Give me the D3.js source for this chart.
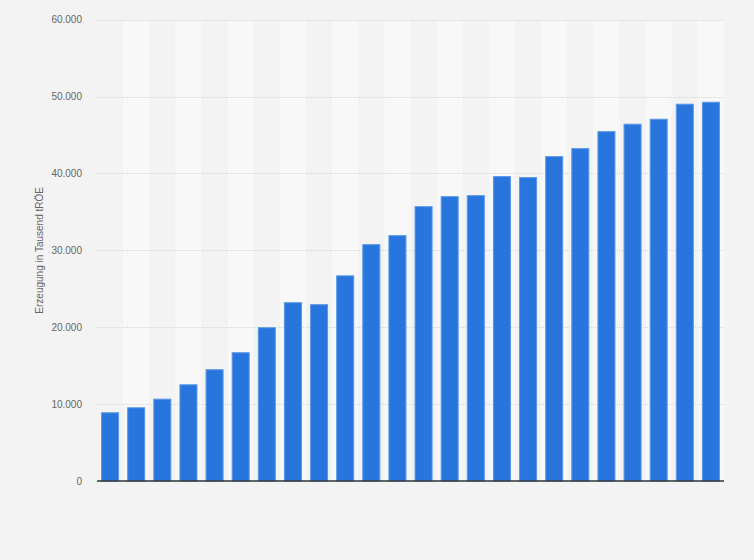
<!DOCTYPE html>
<html>
<head>
<meta charset="utf-8">
<script src="https://cdn.jsdelivr.net/npm/d3@7"></script>
<style>
  html, body { margin: 0; padding: 0; background: #f3f3f3; }
  svg { display: block; }
  text { font-family: "Liberation Sans", Arial, sans-serif; }
</style>
</head>
<body>
<svg id="chart" width="754" height="560"></svg>
<script>
const categories = ["1","2","3","4","5","6","7","8","9","10","11","12","13","14","15","16","17","18","19","20","21","22","23","24"];
const values = [8940, 9590, 10710, 12580, 14540, 16750, 20000, 23260, 23000, 26750, 30810, 31980, 35750, 37050, 37180, 39660, 39530, 42260, 43300, 45510, 46470, 47120, 49070, 49330];
const yTicks = [0, 10000, 20000, 30000, 40000, 50000, 60000];
const yTitle = "Erzeugung in Tausend tRÖE";

const svg = d3.select("#chart");
const W = 754, H = 560;
const m = { left: 97, right: 30, top: 19.7, bottom: 79 };
const x = d3.scaleBand().domain(categories).range([m.left, W - m.right]).paddingInner(0.31).paddingOuter(0.155);
const xb = d3.scaleBand().domain(categories).range([m.left, W - m.right]).padding(0);
const y = d3.scaleLinear().domain([0, 60000]).range([H - m.bottom, m.top]);

svg.append("rect").attr("width", W).attr("height", H).attr("fill", "#f3f3f3");

// alternating stripes
svg.append("g").selectAll("rect").data(categories.filter((d, i) => i % 2 === 1)).join("rect")
  .attr("x", d => xb(d)).attr("width", xb.bandwidth())
  .attr("y", y(60000)).attr("height", y(0) - y(60000))
  .attr("fill", "#f8f8f8");

// gridlines
const fmt = v => v === 0 ? "0" : d3.format(",")(v).replace(/,/g, ".");
svg.append("g").selectAll("line").data(yTicks.filter(d => d > 0)).join("line")
  .attr("x1", m.left).attr("x2", W - m.right)
  .attr("y1", d => Math.round(y(d)) + 0.5).attr("y2", d => Math.round(y(d)) + 0.5)
  .attr("stroke", "#d6d6d6").attr("stroke-width", 1).attr("stroke-dasharray", "1,1");

// y axis labels
const yAxis = d3.axisLeft(y).tickValues(yTicks).tickFormat(fmt).tickSize(0).tickPadding(15);
const ga = svg.append("g").attr("transform", `translate(${m.left},0)`).call(yAxis);
ga.select(".domain").remove();
ga.selectAll("text").attr("fill", "#666").attr("font-size", "10px")
  .attr("font-family", "'Liberation Sans', Arial, sans-serif");

// bars
svg.append("g").selectAll("rect").data(values).join("rect")
  .attr("x", (d, i) => x(categories[i]) + 0.5)
  .attr("width", x.bandwidth() - 1)
  .attr("y", d => y(d) + 0.5)
  .attr("height", d => y(0) - y(d) - 0.5)
  .attr("fill", "#2876dd")
  .attr("stroke", "#5b98e8").attr("stroke-width", 1);

// baseline
svg.append("line").attr("x1", m.left).attr("x2", W - m.right)
  .attr("y1", y(0)).attr("y2", y(0))
  .attr("stroke", "#333").attr("stroke-width", 1.5);

// y title
svg.append("text")
  .attr("transform", `translate(43,${(y(0) + y(60000)) / 2 + 0}) rotate(-90)`)
  .attr("text-anchor", "middle")
  .attr("fill", "#666").attr("font-size", "10px")
  .text(yTitle);
</script>
</body>
</html>
